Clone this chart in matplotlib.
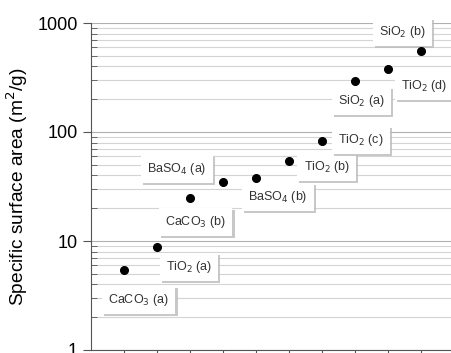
import matplotlib
matplotlib.use('Agg')
import matplotlib.pyplot as plt
import matplotlib.patheffects as pe
from matplotlib.ticker import LogLocator, NullFormatter, FixedLocator

plt.rcParams['font.family'] = ['Liberation Sans', 'DejaVu Sans']

# sample index and specific surface area (m2/g)
positions = [1, 2, 3, 4, 5, 6, 7, 8, 9, 10]
areas = [5.4, 8.9, 25, 35, 38, 54, 83, 295, 378, 553]
labels = ['CaCO$_3$ (a)', 'TiO$_2$ (a)', 'CaCO$_3$ (b)', 'BaSO$_4$ (a)', 'BaSO$_4$ (b)',
          'TiO$_2$ (b)', 'TiO$_2$ (c)', 'SiO$_2$ (a)', 'TiO$_2$ (d)', 'SiO$_2$ (b)']
# label box centres in data units
label_x = [1.45, 2.97, 3.18, 2.6, 5.67, 7.15, 8.18, 8.2, 10.1, 9.45]
label_y = [2.88, 5.77, 14.9, 45.8, 25.3, 47.7, 84.5, 192, 264, 827]

fig = plt.figure(figsize=(4.52, 3.53), dpi=100)
ax = fig.add_axes([91 / 452, 3 / 353, 1 - 91 / 452, (350 - 23) / 353])

ax.set_yscale('log')
ax.set_ylim(1, 1000)
ax.set_xlim(0, 10.95)

ax.grid(True, which='major', axis='y', color='#b0b0b0', linewidth=0.8)
ax.grid(True, which='minor', axis='y', color='#d4d4d4', linewidth=0.8)
ax.set_axisbelow(True)

ax.plot(positions, areas, 'o', color='black', markersize=5.5, zorder=5)

for lx, ly, txt in zip(label_x, label_y, labels):
    t = ax.text(lx, ly, txt, ha='center', va='center', fontsize=9, color='#333333',
                bbox=dict(boxstyle='square,pad=0.5', facecolor='white', edgecolor='none'),
                zorder=4)
    t.get_bbox_patch().set_path_effects([
        pe.SimplePatchShadow(offset=(1.5, -1.5), shadow_rgbFace='#bbbbbb', alpha=0.8),
        pe.Normal()])

ax.xaxis.set_major_locator(FixedLocator(positions))
ax.set_xticklabels([])
ax.tick_params(axis='x', direction='out', length=4, color='#555555')
ax.yaxis.set_major_locator(LogLocator(base=10))
ax.yaxis.set_minor_locator(LogLocator(base=10, subs=range(2, 10)))
ax.yaxis.set_minor_formatter(NullFormatter())
ax.set_yticks([1, 10, 100, 1000])
ax.set_yticklabels(['1', '10', '100', '1000'])
ax.tick_params(axis='y', which='major', direction='out', length=6, labelsize=13, color='#555555')
ax.tick_params(axis='y', which='minor', direction='in', length=4, color='#555555')

ax.set_ylabel('Specific surface area (m$^2$/g)', fontsize=13.8, labelpad=5)

for side in ['right', 'top']:
    ax.spines[side].set_visible(False)
for side in ['left', 'bottom']:
    ax.spines[side].set_color('#555555')

fig.savefig('out.png', dpi=100)
